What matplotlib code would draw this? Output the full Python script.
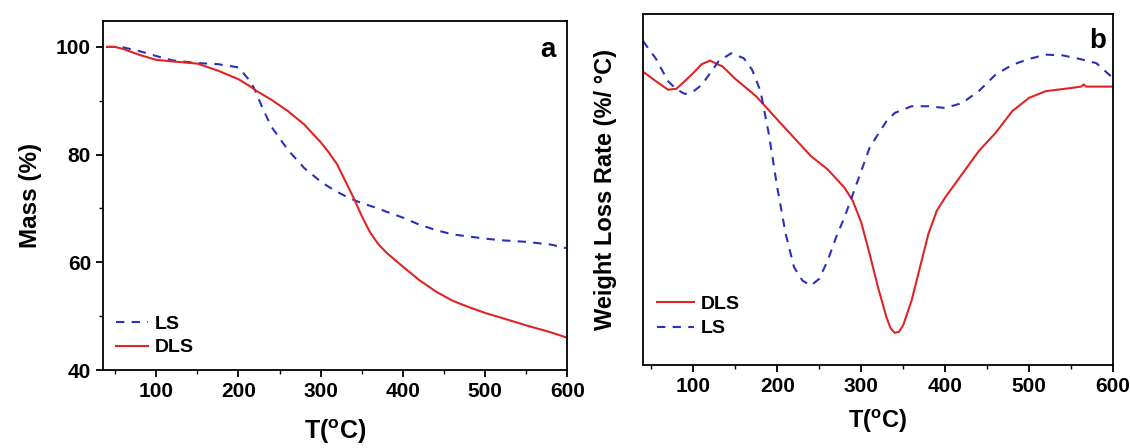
import numpy as np
import matplotlib.pyplot as plt
from matplotlib.ticker import MultipleLocator

plt.rcParams['font.family'] = ['Liberation Sans', 'DejaVu Sans']
plt.rcParams['font.weight'] = 'bold'
plt.rcParams['mathtext.fontset'] = 'custom'
plt.rcParams['mathtext.rm'] = 'Liberation Sans:bold'
plt.rcParams['mathtext.bf'] = 'Liberation Sans:bold'

# ── panel a: TG (mass %) ─────────────────────────────────────────────────────
t_a = [40, 50, 60, 80, 100, 120, 150, 175, 200, 215, 220, 230, 240, 260, 280,
       300, 310, 320, 330, 340, 350, 360, 370, 380, 400, 420, 440, 460, 480,
       500, 520, 550, 580, 600]
mass_dls = [100.0, 100.0, 99.6, 98.5, 97.6, 97.3, 96.9, 95.6, 94.0, 92.6, 92.0,
            91.1, 90.2, 88.1, 85.6, 82.3, 80.4, 78.2, 75.1, 72.0, 68.6, 65.6,
            63.4, 61.8, 59.2, 56.7, 54.6, 52.9, 51.7, 50.6, 49.7, 48.3, 47.0, 46.0]
mass_ls = [100.0, 100.0, 99.9, 99.2, 98.3, 97.5, 97.0, 96.8, 96.2, 93.5, 92.0,
           88.4, 85.2, 80.9, 77.5, 75.0, 74.0, 73.1, 72.3, 71.6, 71.0, 70.5,
           70.0, 69.4, 68.3, 67.0, 66.0, 65.2, 64.8, 64.4, 64.1, 63.8, 63.3, 62.6]

# ── panel b: DTG (arbitrary units) ───────────────────────────────────────────
t_b_dls = [40, 55, 70, 80, 90, 100, 110, 120, 135, 150, 175, 200, 220, 240, 260,
           280, 290, 300, 310, 320, 330, 335, 340, 345, 350, 360, 370, 380, 390,
           400, 420, 440, 460, 480, 500, 520, 550, 562, 565, 568, 580, 600]
dtg_dls = [83.7, 81.0, 78.5, 78.8, 81.0, 83.3, 85.8, 86.8, 85.1, 81.6, 76.6,
           70.0, 64.8, 59.6, 55.8, 50.6, 46.8, 40.7, 31.7, 22.2, 13.7, 10.5,
           9.2, 9.5, 11.4, 18.4, 27.9, 37.4, 44.0, 47.8, 54.4, 61.0, 66.2, 72.4,
           76.2, 78.1, 79.0, 79.4, 80.0, 79.4, 79.4, 79.4]
t_b_ls = [40, 55, 70, 80, 90, 100, 110, 120, 130, 145, 160, 170, 180, 190, 200,
          210, 220, 230, 240, 250, 260, 270, 280, 290, 300, 310, 320, 330, 340,
          360, 380, 400, 420, 440, 460, 480, 500, 520, 540, 560, 580, 600]
dtg_ls = [92.4, 87.5, 80.9, 78.6, 77.3, 78.0, 79.9, 83.2, 86.6, 88.9, 87.5,
          84.2, 78.1, 65.8, 50.6, 37.4, 27.9, 24.1, 22.7, 24.6, 29.8, 36.4,
          42.1, 48.7, 55.3, 62.0, 65.8, 69.5, 71.9, 73.8, 73.8, 73.3, 74.7,
          78.1, 82.8, 85.6, 87.3, 88.5, 88.3, 87.3, 86.1, 81.8]

RED = '#e02424'
BLUE = '#2a30bb'
DASH = (0, (4, 3.5))

fig = plt.figure(figsize=(11.3, 4.48), dpi=100)

# ── panel a ──
ax1 = fig.add_axes([0.091, 0.174, 0.411, 0.779])
ax1.plot(t_a, mass_ls, color=BLUE, lw=1.5, ls=DASH, label='LS')
ax1.plot(t_a, mass_dls, color=RED, lw=1.5, label='DLS')
ax1.set_xlim(35, 600)
ax1.set_ylim(40, 104.8)
ax1.xaxis.set_major_locator(MultipleLocator(100))
ax1.xaxis.set_minor_locator(MultipleLocator(50))
ax1.yaxis.set_major_locator(MultipleLocator(20))
ax1.yaxis.set_minor_locator(MultipleLocator(10))
ax1.set_xlabel(r'T($^{\rm o}$C)', fontsize=18, fontweight='bold', labelpad=12)
ax1.set_ylabel('Mass (%)', fontsize=17.5, fontweight='bold', labelpad=10)
ax1.text(0.975, 0.955, 'a', transform=ax1.transAxes, ha='right', va='top',
         fontsize=20, fontweight='bold')
ax1.legend(loc='lower left', frameon=False, fontsize=14, handlelength=1.6,
           handletextpad=0.35, borderaxespad=0.3, labelspacing=0.3,
           bbox_to_anchor=(0.0, 0.0))

# ── panel b ──
ax2 = fig.add_axes([0.569, 0.185, 0.416, 0.783])
ax2.plot(t_b_dls, dtg_dls, color=RED, lw=1.5, label='DLS')
ax2.plot(t_b_ls, dtg_ls, color=BLUE, lw=1.5, ls=DASH, label='LS')
ax2.set_xlim(40, 600)
ax2.set_ylim(0, 100)
ax2.xaxis.set_major_locator(MultipleLocator(100))
ax2.xaxis.set_minor_locator(MultipleLocator(50))
ax2.set_yticks([])
ax2.set_xlabel(r'T($^{\rm o}$C)', fontsize=17, fontweight='bold', labelpad=8)
ax2.set_ylabel('Weight Loss Rate (%/ °C)', fontsize=17, fontweight='bold', labelpad=19)
ax2.text(0.985, 0.96, 'b', transform=ax2.transAxes, ha='right', va='top',
         fontsize=20, fontweight='bold')
ax2.legend(loc='lower left', frameon=False, fontsize=14, handlelength=1.9,
           handletextpad=0.35, borderaxespad=0.3, labelspacing=0.35,
           bbox_to_anchor=(0.0, 0.04))

for ax in (ax1, ax2):
    for s in ax.spines.values():
        s.set_linewidth(1.3)
    ax.tick_params(which='major', direction='out', length=5, width=1.3,
                   labelsize=15)
    ax.tick_params(which='minor', direction='out', length=3, width=1.0)
    for lab in ax.get_xticklabels() + ax.get_yticklabels():
        lab.set_fontweight('bold')

fig.savefig('out.png', dpi=100)
